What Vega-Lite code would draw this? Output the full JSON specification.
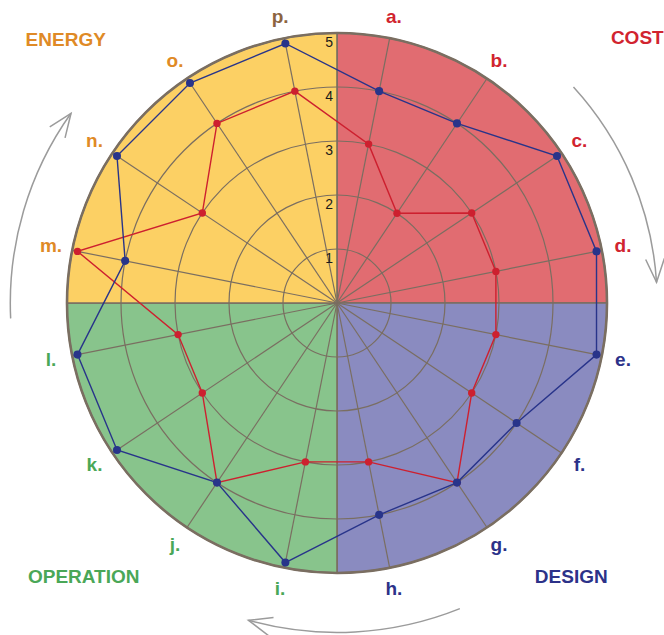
{
  "$schema": "https://vega.github.io/schema/vega-lite/v6.json",
  "width": 540,
  "height": 540,
  "autosize": {"type": "none"},
  "padding": {"left": 67, "top": 33, "right": 57, "bottom": 62},
  "background": "white",
  "config": {"view": {"stroke": null}, "font": "Liberation Sans"},
  "datasets": {
    "axes": [
      {"axis": "a", "quadrant": "COST"}, {"axis": "b", "quadrant": "COST"}, {"axis": "c", "quadrant": "COST"}, {"axis": "d", "quadrant": "COST"},
      {"axis": "e", "quadrant": "DESIGN"}, {"axis": "f", "quadrant": "DESIGN"}, {"axis": "g", "quadrant": "DESIGN"}, {"axis": "h", "quadrant": "DESIGN"},
      {"axis": "i", "quadrant": "OPERATION"}, {"axis": "j", "quadrant": "OPERATION"}, {"axis": "k", "quadrant": "OPERATION"}, {"axis": "l", "quadrant": "OPERATION"},
      {"axis": "m", "quadrant": "ENERGY"}, {"axis": "n", "quadrant": "ENERGY"}, {"axis": "o", "quadrant": "ENERGY"}, {"axis": "p", "quadrant": "ENERGY"}
    ],
    "scores": [
      {"axis": "a", "series": "Red", "value": 3}, {"axis": "b", "series": "Red", "value": 2}, {"axis": "c", "series": "Red", "value": 3}, {"axis": "d", "series": "Red", "value": 3},
      {"axis": "e", "series": "Red", "value": 3}, {"axis": "f", "series": "Red", "value": 3}, {"axis": "g", "series": "Red", "value": 4}, {"axis": "h", "series": "Red", "value": 3},
      {"axis": "i", "series": "Red", "value": 3}, {"axis": "j", "series": "Red", "value": 4}, {"axis": "k", "series": "Red", "value": 3}, {"axis": "l", "series": "Red", "value": 3},
      {"axis": "m", "series": "Red", "value": 4.9}, {"axis": "n", "series": "Red", "value": 3}, {"axis": "o", "series": "Red", "value": 4}, {"axis": "p", "series": "Red", "value": 4},
      {"axis": "a", "series": "Blue", "value": 4}, {"axis": "b", "series": "Blue", "value": 4}, {"axis": "c", "series": "Blue", "value": 4.9}, {"axis": "d", "series": "Blue", "value": 4.9},
      {"axis": "e", "series": "Blue", "value": 4.9}, {"axis": "f", "series": "Blue", "value": 4}, {"axis": "g", "series": "Blue", "value": 4}, {"axis": "h", "series": "Blue", "value": 4},
      {"axis": "i", "series": "Blue", "value": 4.9}, {"axis": "j", "series": "Blue", "value": 4}, {"axis": "k", "series": "Blue", "value": 4.9}, {"axis": "l", "series": "Blue", "value": 4.9},
      {"axis": "m", "series": "Blue", "value": 4}, {"axis": "n", "series": "Blue", "value": 4.9}, {"axis": "o", "series": "Blue", "value": 4.9}, {"axis": "p", "series": "Blue", "value": 4.9}
    ],
    "levels": [{"level": 1}, {"level": 2}, {"level": 3}, {"level": 4}, {"level": 5}],
    "arrows": [
      {"from": 47.6, "to": 86.3, "r": 5.93},
      {"from": 158.1, "to": 195.6, "r": 6.1},
      {"from": 267.3, "to": 305.5, "r": 6.05}
    ]
  },
  "layer": [
    {
      "data": {"name": "axes"},
      "transform": [
        {"aggregate": [{"op": "count", "as": "n"}], "groupby": ["quadrant"]},
        {"calculate": "indexof(['COST','DESIGN','OPERATION','ENERGY'], datum.quadrant)", "as": "qi"}
      ],
      "mark": {"type": "arc", "radius": 270, "stroke": "#7a6e61", "strokeWidth": 1.6},
      "encoding": {
        "theta": {"field": "n", "type": "quantitative", "stack": true},
        "order": {"field": "qi", "type": "quantitative"},
        "color": {"field": "quadrant", "type": "nominal", "scale": {"domain": ["COST", "DESIGN", "OPERATION", "ENERGY"], "range": ["#e16c71", "#8a8bc0", "#88c48c", "#fcd064"]}, "legend": null}
      }
    },
    {
      "data": {"name": "levels"},
      "mark": {"type": "arc", "theta": 0, "theta2": 6.2832, "filled": false, "stroke": "#7a6e61"},
      "encoding": {
        "radius": {"field": "level", "type": "quantitative", "stack": null, "scale": {"type": "linear", "domain": [0, 5], "range": [0, 270], "zero": true, "nice": false}},
        "strokeWidth": {"condition": {"test": "datum.level == 5", "value": 2.6}, "value": 1.2}
      }
    },
    {
      "data": {"name": "axes"},
      "transform": [
        {"calculate": "(indexof('abcdefghijklmnop', datum.axis) + 0.5) * PI / 8", "as": "t"},
        {"calculate": "5 * sin(datum.t)", "as": "sx"},
        {"calculate": "5 * cos(datum.t)", "as": "sy"},
        {"calculate": "0 * datum.t", "as": "cx"}
      ],
      "mark": {"type": "rule", "stroke": "#7a6e61", "strokeWidth": 1.2},
      "encoding": {
        "x": {"field": "cx", "type": "quantitative", "scale": {"domain": [-5, 5], "nice": false, "zero": false}, "axis": null},
        "y": {"field": "cx", "type": "quantitative", "scale": {"domain": [-5, 5], "nice": false, "zero": false}, "axis": null},
        "x2": {"field": "sx"},
        "y2": {"field": "sy"}
      }
    },
    {
      "data": {"name": "scores"},
      "transform": [
        {"calculate": "indexof('abcdefghijklmnop', datum.axis)", "as": "k"},
        {"calculate": "(datum.k + 0.5) * PI / 8", "as": "t"},
        {"calculate": "datum.value * sin(datum.t)", "as": "px"},
        {"calculate": "datum.value * cos(datum.t)", "as": "py"}
      ],
      "encoding": {
        "x": {"field": "px", "type": "quantitative", "scale": {"domain": [-5, 5], "nice": false, "zero": false}, "axis": null},
        "y": {"field": "py", "type": "quantitative", "scale": {"domain": [-5, 5], "nice": false, "zero": false}, "axis": null},
        "order": {"field": "k", "type": "quantitative"}
      },
      "layer": [
        {"transform": [{"filter": "datum.series == 'Red'"}], "mark": {"type": "line", "interpolate": "linear-closed", "stroke": "#cd202f", "strokeWidth": 1.4}},
        {"transform": [{"filter": "datum.series == 'Red'"}], "mark": {"type": "point", "filled": true, "color": "#cd202f", "opacity": 1, "size": 55}},
        {"transform": [{"filter": "datum.series == 'Blue'"}], "mark": {"type": "line", "interpolate": "linear-closed", "stroke": "#28348a", "strokeWidth": 1.4}},
        {"transform": [{"filter": "datum.series == 'Blue'"}], "mark": {"type": "point", "filled": true, "color": "#28348a", "opacity": 1, "size": 65}}
      ]
    },
    {
      "data": {"name": "levels"},
      "transform": [{"calculate": "0 * datum.level", "as": "cx"}],
      "mark": {"type": "text", "align": "right", "baseline": "top", "dx": -4, "dy": 3, "fontSize": 14, "color": "#1a1a1a"},
      "encoding": {
        "x": {"field": "cx", "type": "quantitative", "scale": {"domain": [-5, 5], "nice": false, "zero": false}, "axis": null},
        "y": {"field": "level", "type": "quantitative", "scale": {"domain": [-5, 5], "nice": false, "zero": false}, "axis": null},
        "text": {"field": "level", "type": "quantitative"}
      }
    },
    {
      "data": {"name": "axes"},
      "transform": [
        {"calculate": "(indexof('abcdefghijklmnop', datum.axis) + 0.5) * PI / 8", "as": "t"},
        {"calculate": "5.4 * sin(datum.t)", "as": "lx"},
        {"calculate": "5.4 * cos(datum.t)", "as": "ly"},
        {"calculate": "datum.axis + '.'", "as": "label"}
      ],
      "mark": {"type": "text", "fontSize": 19, "fontWeight": "bold", "align": "center", "baseline": "middle"},
      "encoding": {
        "x": {"field": "lx", "type": "quantitative", "scale": {"domain": [-5, 5], "nice": false, "zero": false}, "axis": null},
        "y": {"field": "ly", "type": "quantitative", "scale": {"domain": [-5, 5], "nice": false, "zero": false}, "axis": null},
        "text": {"field": "label", "type": "nominal"},
        "color": {
          "condition": {"test": "datum.axis == 'p'", "value": "#8c6440"},
          "field": "quadrant", "type": "nominal",
          "scale": {"domain": ["COST", "DESIGN", "OPERATION", "ENERGY"], "range": ["#d1242f", "#2c3289", "#4aa757", "#df8a26"]},
          "legend": null
        }
      }
    },
    {
      "data": {"name": "axes"},
      "transform": [
        {"aggregate": [{"op": "count", "as": "n"}], "groupby": ["quadrant"]},
        {"calculate": "indexof(['COST','DESIGN','OPERATION','ENERGY'], datum.quadrant)", "as": "qi"},
        {"calculate": "(datum.qi + 0.5) * PI / 2", "as": "t"},
        {"calculate": "7 * sin(datum.t)", "as": "tx"},
        {"calculate": "7 * cos(datum.t)", "as": "ty"}
      ],
      "encoding": {
        "x": {"field": "tx", "type": "quantitative", "scale": {"domain": [-5, 5], "nice": false, "zero": false}, "axis": null},
        "y": {"field": "ty", "type": "quantitative", "scale": {"domain": [-5, 5], "nice": false, "zero": false}, "axis": null},
        "text": {"field": "quadrant", "type": "nominal"},
        "color": {"field": "quadrant", "type": "nominal", "scale": {"domain": ["COST", "DESIGN", "OPERATION", "ENERGY"], "range": ["#d1242f", "#2c3289", "#4aa757", "#df8a26"]}, "legend": null}
      },
      "layer": [
        {"transform": [{"filter": "datum.quadrant == 'COST'"}], "mark": {"type": "text", "fontSize": 19, "fontWeight": "bold", "align": "center", "baseline": "middle", "dx": 33, "dy": 2}},
        {"transform": [{"filter": "datum.quadrant == 'DESIGN'"}], "mark": {"type": "text", "fontSize": 19, "fontWeight": "bold", "align": "center", "baseline": "middle", "dx": -33, "dy": 7}},
        {"transform": [{"filter": "datum.quadrant == 'OPERATION'"}], "mark": {"type": "text", "fontSize": 19, "fontWeight": "bold", "align": "center", "baseline": "middle", "dx": 14, "dy": 7}},
        {"transform": [{"filter": "datum.quadrant == 'ENERGY'"}], "mark": {"type": "text", "fontSize": 19, "fontWeight": "bold", "align": "center", "baseline": "middle", "dx": -4, "dy": 4}}
      ]
    },
    {
      "data": {"name": "arrows"},
      "mark": {"type": "arc", "filled": false, "stroke": "#9b9b9b", "strokeWidth": 1.5},
      "encoding": {
        "theta": {"field": "from", "type": "quantitative", "stack": null, "scale": {"type": "linear", "domain": [0, 360], "range": [0, 6.283185307], "zero": true, "nice": false}},
        "theta2": {"field": "to"},
        "radius": {"field": "r", "type": "quantitative", "stack": null, "scale": {"type": "linear", "domain": [0, 5], "range": [0, 270], "zero": true, "nice": false}},
        "radius2": {"field": "r"}
      }
    },
    {
      "data": {"name": "arrows"},
      "transform": [
        {"calculate": "datum.to * PI / 180", "as": "tr"},
        {"calculate": "datum.r * sin(datum.tr)", "as": "hx"},
        {"calculate": "datum.r * cos(datum.tr)", "as": "hy"}
      ],
      "mark": {"type": "point", "shape": "M -1 -0.4 L 0 0 L -1 0.4", "filled": false, "stroke": "#9b9b9b", "strokeWidth": 1.5, "size": 2200, "opacity": 1},
      "encoding": {
        "x": {"field": "hx", "type": "quantitative", "scale": {"domain": [-5, 5], "nice": false, "zero": false}, "axis": null},
        "y": {"field": "hy", "type": "quantitative", "scale": {"domain": [-5, 5], "nice": false, "zero": false}, "axis": null},
        "angle": {"field": "to", "type": "quantitative", "scale": null}
      }
    }
  ],
  "resolve": {"scale": {"theta": "independent", "radius": "independent", "color": "independent"}}
}
